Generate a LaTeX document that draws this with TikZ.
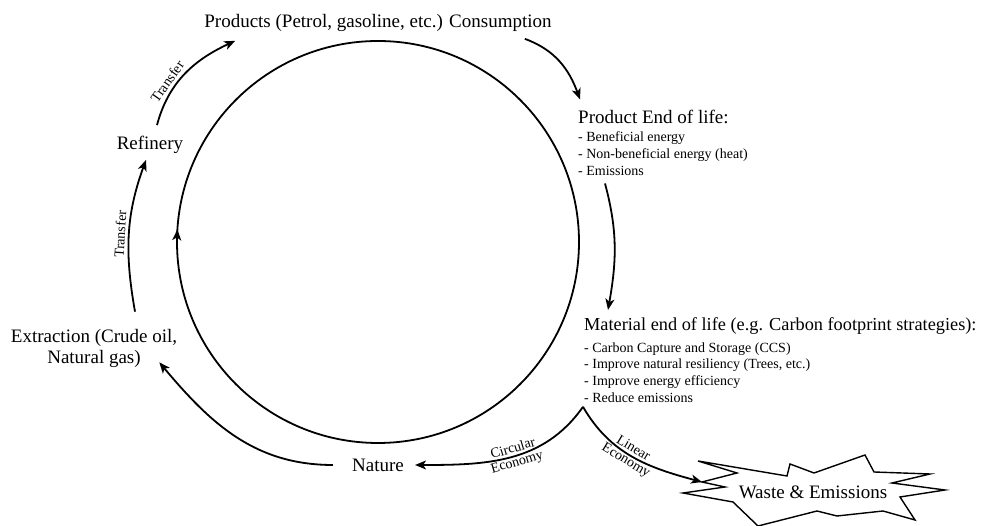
\documentclass[tikz,border=0pt]{standalone}
\usepackage{fontspec}
\setmainfont{Liberation Serif}
\usetikzlibrary{arrows.meta,positioning,decorations.markings}
\tikzset{
  flow/.style={line width=1.8pt, -{Stealth[length=11pt,width=9pt,inset=3pt]}},
  big/.style={font=\fontsize{19}{21}\selectfont, inner sep=0pt},
  items/.style={font=\fontsize{14}{16.8}\selectfont, inner sep=0pt, align=left},
  tag/.style={font=\fontsize{14}{14}\selectfont, inner sep=0pt, align=center},
}
\begin{document}
\begin{tikzpicture}[x=1pt,y=1pt]
\useasboundingbox (0,0) rectangle (983,526);

% the cycle
\coordinate (cen) at (378,284);
\draw[line width=1.8pt, postaction={decorate},
  decoration={markings, mark=at position 0.49 with {\arrowreversed{Stealth[length=11pt,width=9pt,inset=3pt]}}}]
  (cen) circle [radius=201pt];

% stages
\node[big] (products) at (378,503) {Products (Petrol, gasoline, etc.) Consumption};
\node[big, anchor=base west] (pelhead) at (578,402) {Product End of life:};
\node[items, below=7pt of pelhead.south west, anchor=north west] (pelitems)
  {- Beneficial energy\\- Non-beneficial energy (heat)\\- Emissions};
\node[big, font=\fontsize{18.3}{21}\selectfont, anchor=base west] (mathead) at (584,195)
  {Material end of life (e.g. Carbon footprint strategies):};
\node[items, below=7pt of mathead.south west, anchor=north west] (matitems)
  {- Carbon Capture and Storage (CCS)\\- Improve natural resiliency (Trees, etc.)\\- Improve energy efficiency\\- Reduce emissions};
\node[big] (nature) at (378,61) {Nature};
\node[big, align=center] (extraction) at (94,178) {Extraction (Crude oil,\\Natural gas)};
\node[big] (refinery) at (150,381) {Refinery};

% waste burst
\draw[line width=1.4pt, line join=miter]
  (698,65) -- (787,50) -- (790,62) -- (814,53) -- (865,71) -- (874,54) -- (930,52)
  -- (892,43) -- (945,36) -- (900,29) -- (915,6) -- (883,15) -- (837,10) -- (817,15)
  -- (758,0) -- (733,24) -- (683,33) -- (725,39) -- (702,44) coordinate (wastetip)
  -- (737,53) -- cycle;
\node[big] (waste) at (813,34) {Waste \& Emissions};

% flows
\draw[flow] ([xshift=7pt,yshift=11pt]refinery.north) to[out=75,in=205]
  node[tag, sloped, above=3pt, pos=0.35] {Transfer} ([xshift=31pt,yshift=-9pt]products.south west);
\draw[flow] ([xshift=41pt,yshift=17pt]extraction.north) to[out=100,in=250]
  node[tag, sloped, above=3pt, pos=0.5] {Transfer} ([xshift=-4pt,yshift=-6pt]refinery.south);
\draw[flow] ([xshift=-19pt]nature.west) to[out=180,in=-50] ([xshift=-18pt,yshift=5pt]extraction.south east);
\draw[flow] ([xshift=-27pt,yshift=-7pt]products.south east) to[out=-20,in=110] ([xshift=2pt,yshift=11pt]pelhead.north west);
\draw[flow] ([xshift=27pt,yshift=-8pt]pelitems.south west) to[out=-75,in=80] ([xshift=24pt,yshift=8pt]mathead.north west);

\coordinate (fork) at ([xshift=-1pt,yshift=-4pt]matitems.south west);
\draw[flow] (fork) to[out=235,in=0]
  node[tag, sloped, pos=0.47] {Circular\\Economy} ([xshift=11pt]nature.east);
\draw[flow] (fork) to[out=-60,in=165]
  node[tag, sloped, pos=0.47] {Linear\\Economy} (wastetip);
\end{tikzpicture}
\end{document}
